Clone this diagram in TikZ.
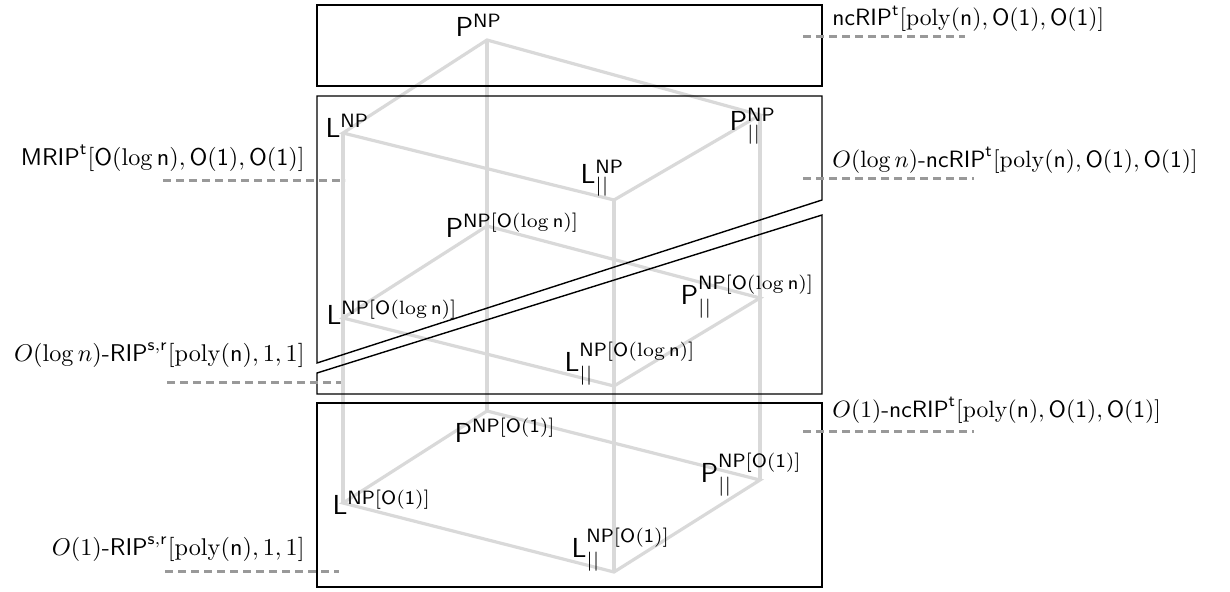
\documentclass[tikz,border=0pt]{standalone}
\usepackage{amsmath}
\definecolor{cubegray}{gray}{0.85}
\definecolor{guidegray}{gray}{0.6}
\newcommand{\lgn}{\mathsf{O}(\log\mathsf{n})}
\newcommand{\oone}{\mathsf{O}(\mathsf{1})}
\tikzset{
  edge/.style={draw=cubegray, line width=3.2pt},
  frame/.style={draw=black, line width=1.4pt},
  guide/.style={draw=guidegray, line width=3pt, dash pattern=on 8pt off 5pt},
  cls/.style={inner sep=0pt, scale=2.75, anchor=base west},
  tagl/.style={inner sep=0pt, scale=2.42, anchor=base east},
  tagr/.style={inner sep=0pt, scale=2.36, anchor=base west},
}
\begin{document}
\begin{tikzpicture}[x=1pt,y=-1pt]
\useasboundingbox (0,0) rectangle (1230,591);

% cube corners, one layer per oracle restriction
\coordinate (P1) at (487,40);  \coordinate (L1) at (343,133);
\coordinate (Q1) at (760,115); \coordinate (M1) at (614,200);
\coordinate (P2) at (487,226); \coordinate (L2) at (343,318);
\coordinate (Q2) at (760,298); \coordinate (M2) at (614,386);
\coordinate (P3) at (487,411); \coordinate (L3) at (343,503);
\coordinate (Q3) at (760,480); \coordinate (M3) at (614,572);

% cube edges
\foreach \k in {1,2,3}{
  \draw[edge] (L\k) -- (P\k) -- (Q\k) -- (M\k) -- cycle;
}
\draw[edge] (P1) -- (P3);
\draw[edge] (L1) -- (L3);
\draw[edge] (Q1) -- (Q3);
\draw[edge] (M1) -- (M3);

% class labels
\node[cls] (tP1) at (455,37)  {$\mathsf{P}^{\mathsf{NP}}$};
\node[cls] (tL1) at (325,137) {$\mathsf{L}^{\mathsf{NP}}$};
\node[cls] (tQ1) at (729,131) {$\mathsf{P}^{\mathsf{NP}}_{||}$};
\node[cls] (tM1) at (580,183) {$\mathsf{L}^{\mathsf{NP}}_{||}$};
\node[cls] (tP2) at (445,237) {$\mathsf{P}^{\mathsf{NP}[\lgn]}$};
\node[cls] (tL2) at (326,324) {$\mathsf{L}^{\mathsf{NP}[\lgn]}$};
\node[cls] (tQ2) at (680,304) {$\mathsf{P}^{\mathsf{NP}[\lgn]}_{||}$};
\node[cls] (tM2) at (564,371) {$\mathsf{L}^{\mathsf{NP}[\lgn]}_{||}$};
\node[cls] (tP3) at (454,442) {$\mathsf{P}^{\mathsf{NP}[\oone]}$};
\node[cls] (tL3) at (332,514) {$\mathsf{L}^{\mathsf{NP}[\oone]}$};
\node[cls] (tQ3) at (700,482) {$\mathsf{P}^{\mathsf{NP}[\oone]}_{||}$};
\node[cls] (tM3) at (571,557) {$\mathsf{L}^{\mathsf{NP}[\oone]}_{||}$};

% regions
\draw[frame] (317,5) rectangle (822,86);
\draw[frame] (317,96) -- (822,96) -- (822,200) -- (317,363) -- cycle;
\draw[frame] (317,373) -- (822,215) -- (822,394) -- (317,394) -- cycle;
\draw[frame] (317,403) rectangle (822,587);

% protocol tags with their guide lines
\node[tagr] (r1) at (832,26)  {$\mathsf{ncRIP}^{\mathsf{t}}[\mathrm{poly}(\mathsf{n}), \oone, \oone]$};
\node[tagr] (r2) at (832,167) {$O(\log n)$-$\mathsf{ncRIP}^{\mathsf{t}}[\mathrm{poly}(\mathsf{n}), \oone, \oone]$};
\node[tagr] (r3) at (832,417) {$O(1)$-$\mathsf{ncRIP}^{\mathsf{t}}[\mathrm{poly}(\mathsf{n}), \oone, \oone]$};
\node[tagl] (l1) at (305,165) {$\mathsf{MRIP}^{\mathsf{t}}[\lgn, \oone, \oone]$};
\node[tagl] (l2) at (305,361) {$O(\log n)$-$\mathsf{RIP}^{\mathsf{s,r}}[\mathrm{poly}(\mathsf{n}), 1, 1]$};
\node[tagl] (l3) at (305,555) {$O(1)$-$\mathsf{RIP}^{\mathsf{s,r}}[\mathrm{poly}(\mathsf{n}), 1, 1]$};

\coordinate (r1a) at (803,37);  \coordinate (r1b) at (965,37);
\coordinate (r2a) at (803,178); \coordinate (r2b) at (974,178);
\coordinate (r3a) at (803,431); \coordinate (r3b) at (974,431);
\coordinate (l1a) at (163,180); \coordinate (l1b) at (345,180);
\coordinate (l2a) at (167,382); \coordinate (l2b) at (341,382);
\coordinate (l3a) at (165,571); \coordinate (l3b) at (339,571);
\foreach \g in {r1,r2,r3,l1,l2,l3}{
  \draw[guide] (\g a) -- (\g b);
}
\end{tikzpicture}
\end{document}
